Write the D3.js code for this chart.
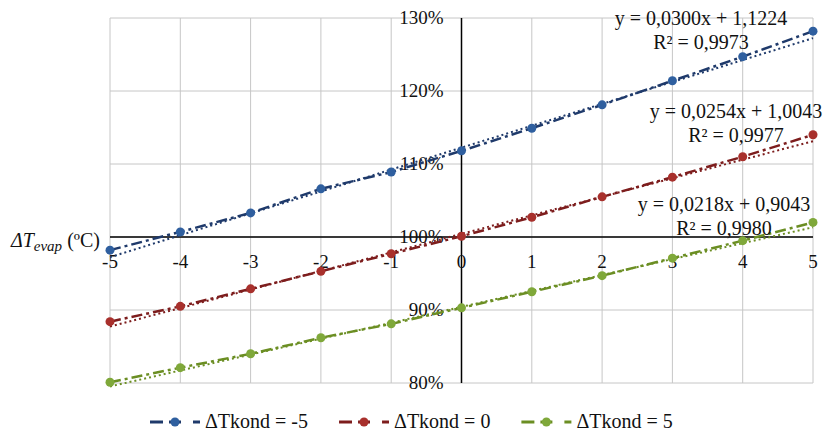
<!DOCTYPE html>
<html>
<head>
<meta charset="utf-8">
<script src="https://cdn.jsdelivr.net/npm/d3@7"></script>
<style>
  body { margin: 0; background: #fff; }
  text { font-family: "Liberation Serif", "Times New Roman", "DejaVu Serif", serif; fill: #111; }
  .grid line { stroke: #c6c6c6; stroke-width: 1; }
  .tick-label { font-size: 19px; }
</style>
</head>
<body>
<div id="chart"></div>
<script>
// x values (ΔTevap, ºC)
const xValues = [-5, -4, -3, -2, -1, 0, 1, 2, 3, 4, 5];
// relative values
const kondMinus5 = [0.982, 1.007, 1.033, 1.066, 1.089, 1.118, 1.149, 1.181, 1.214, 1.247, 1.282];
const kond0      = [0.884, 0.905, 0.929, 0.953, 0.977, 1.001, 1.027, 1.055, 1.082, 1.110, 1.140];
const kond5      = [0.801, 0.821, 0.840, 0.862, 0.881, 0.903, 0.925, 0.947, 0.971, 0.995, 1.020];

const seriesNames = ['ΔTkond = -5', 'ΔTkond = 0', 'ΔTkond = 5'];
const slopes = [0.0300, 0.0254, 0.0218];
const intercepts = [1.1224, 1.0043, 0.9043];
const eqTexts = ['y = 0,0300x + 1,1224', 'y = 0,0254x + 1,0043', 'y = 0,0218x + 0,9043'];
const r2Texts = ['R² = 0,9973', 'R² = 0,9977', 'R² = 0,9980'];

const yTicks = [0.8, 0.9, 1.0, 1.1, 1.2, 1.3];
const yTickLabels = ['80%', '90%', '100%', '110%', '120%', '130%'];

const lineColors = ['#1f3a6b', '#7d1d1d', '#6b8e23'];
const markerColors = ['#2f5f9f', '#a8302c', '#7fa83a'];

const serif = '"Liberation Serif", "Times New Roman", "DejaVu Serif", serif';
const width = 828, height = 433;
const margin = {top: 18, right: 15, bottom: 50, left: 110};

const svg = d3.select('#chart').append('svg')
    .attr('width', width)
    .attr('height', height)
    .attr('font-family', serif);

const x = d3.scaleLinear().domain([-5, 5]).range([margin.left, width - margin.right]);
const y = d3.scaleLinear().domain([0.8, 1.3]).range([height - margin.bottom, margin.top]);

// gridlines
const grid = svg.append('g').attr('class', 'grid');
grid.selectAll('.v')
    .data(xValues)
    .join('line')
    .attr('x1', d => x(d)).attr('x2', d => x(d))
    .attr('y1', y(1.3)).attr('y2', y(0.8));
grid.selectAll('.h')
    .data(yTicks)
    .join('line')
    .attr('class', 'h')
    .attr('x1', x(-5)).attr('x2', x(5))
    .attr('y1', d => y(d)).attr('y2', d => y(d));

// axes crossing at (0, 100%)
svg.append('line')
    .attr('x1', x(0)).attr('x2', x(0))
    .attr('y1', y(1.3)).attr('y2', y(0.8))
    .attr('stroke', '#000').attr('stroke-width', 1.5);
svg.append('line')
    .attr('x1', x(-5)).attr('x2', x(5))
    .attr('y1', y(1.0)).attr('y2', y(1.0))
    .attr('stroke', '#000').attr('stroke-width', 1.5);

// tick labels
svg.selectAll('.ylab')
    .data(yTicks)
    .join('text')
    .attr('class', 'tick-label')
    .attr('font-family', serif)
    .attr('x', x(0) - 18)
    .attr('y', d => y(d) + 6)
    .attr('text-anchor', 'end')
    .text((d, i) => yTickLabels[i]);

svg.selectAll('.xlab')
    .data(xValues)
    .join('text')
    .attr('class', 'tick-label')
    .attr('font-family', serif)
    .attr('x', d => x(d))
    .attr('y', y(1.0) + 31)
    .attr('text-anchor', 'middle')
    .text(d => d);

// axis title
const axTitle = svg.append('text')
    .attr('font-family', serif)
    .attr('x', x(-5) - 10)
    .attr('y', y(1.0) + 10)
    .attr('text-anchor', 'end')
    .style('font-size', '20px');
axTitle.append('tspan').style('font-style', 'italic').text('ΔT');
axTitle.append('tspan').style('font-style', 'italic').style('font-size', '15px').attr('dy', 4).text('evap');
axTitle.append('tspan').attr('dy', -4).text(' (ºC)');

const seriesData = [kondMinus5, kond0, kond5];

const line = d3.line()
    .x((d, i) => x(xValues[i]))
    .y(d => y(d));

// trendlines (dotted)
svg.selectAll('.trend')
    .data(slopes)
    .join('line')
    .attr('x1', x(-5)).attr('x2', x(5))
    .attr('y1', (d, i) => y(d * -5 + intercepts[i]))
    .attr('y2', (d, i) => y(d * 5 + intercepts[i]))
    .attr('stroke', (d, i) => lineColors[i])
    .attr('stroke-width', 2)
    .attr('stroke-dasharray', '2 3');

// series lines (long dash dot)
svg.selectAll('.series')
    .data(seriesData)
    .join('path')
    .attr('d', d => line(d))
    .attr('fill', 'none')
    .attr('stroke', (d, i) => lineColors[i])
    .attr('stroke-width', 2.5)
    .attr('stroke-dasharray', '11 4 3 4');

seriesData.forEach((vals, k) => {
  svg.append('g').selectAll('circle')
      .data(vals)
      .join('circle')
      .attr('cx', (d, i) => x(xValues[i]))
      .attr('cy', d => y(d))
      .attr('r', 4.5)
      .attr('fill', markerColors[k]);
});

// equations
const eqPos = [{cx: 701, y: 25}, {cx: 736, y: 118}, {cx: 724, y: 211}];
eqPos.forEach((p, i) => {
  svg.append('text')
      .attr('font-family', serif)
      .attr('x', p.cx).attr('y', p.y)
      .attr('text-anchor', 'middle')
      .style('font-size', '20px')
      .text(eqTexts[i]);
  svg.append('text')
      .attr('font-family', serif)
      .attr('x', p.cx).attr('y', p.y + 24)
      .attr('text-anchor', 'middle')
      .style('font-size', '20px')
      .text(r2Texts[i]);
});

// legend
let lx = 150;
const ly = 422;
seriesNames.forEach((name, i) => {
  const g = svg.append('g');
  [[0, 13], [19, 31], [43, 50]].forEach(s => {
    g.append('line')
        .attr('x1', lx + s[0]).attr('x2', lx + s[1])
        .attr('y1', ly).attr('y2', ly)
        .attr('stroke', lineColors[i]).attr('stroke-width', 3);
  });
  g.append('circle')
      .attr('cx', lx + 25).attr('cy', ly).attr('r', 4.5)
      .attr('fill', markerColors[i]);
  const t = g.append('text')
      .attr('font-family', serif)
      .attr('x', lx + 55).attr('y', ly + 6)
      .style('font-size', '20px')
      .text(name);
  lx += 55 + t.node().getComputedTextLength() + 31;
});
</script>
</body>
</html>
